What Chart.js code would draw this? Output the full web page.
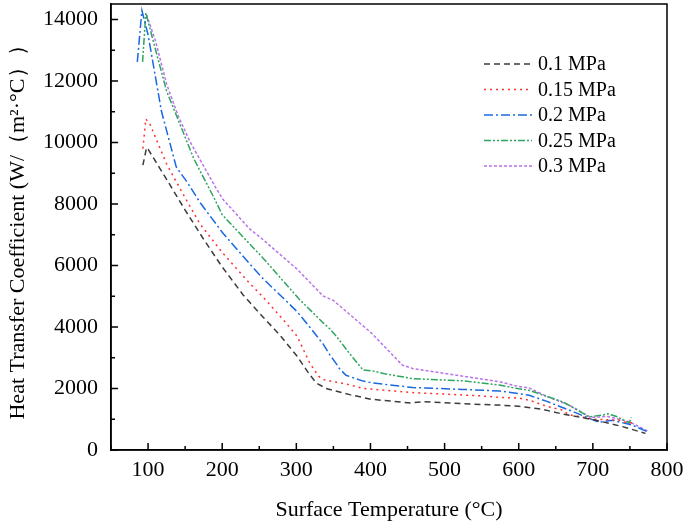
<!DOCTYPE html>
<html>
<head>
<meta charset="utf-8">
<script src="https://cdn.jsdelivr.net/npm/chart.js@4.4.1/dist/chart.umd.min.js"></script>
<style>
  body { margin: 0; background: #fff; }
  canvas { display: block; }
</style>
</head>
<body>
<canvas id="chart" width="685" height="526"></canvas>
<script>
const seriesNames = ['0.1 MPa', '0.15 MPa', '0.2 MPa', '0.25 MPa', '0.3 MPa'];

const temp01 = [93, 98, 100, 125, 150, 175, 200, 228, 254, 278, 301, 318, 327, 340, 372, 401, 454, 472, 549, 574, 600, 632, 659, 704, 740, 771];
const htc01 = [9260, 9830, 9780, 8800, 7800, 6850, 5950, 5050, 4350, 3730, 3050, 2450, 2180, 2000, 1800, 1650, 1530, 1570, 1480, 1460, 1420, 1320, 1170, 970, 760, 540];

const temp015 = [93, 97, 103, 125, 150, 170, 200, 237, 254, 280, 301, 318, 330, 336, 372, 390, 401, 454, 549, 574, 600, 614, 638, 659, 667, 695, 703, 735, 744, 758];
const htc015 = [9800, 10760, 10570, 9300, 8200, 7350, 6420, 5420, 5000, 4300, 3700, 2830, 2400, 2290, 2120, 2000, 1980, 1870, 1760, 1710, 1690, 1620, 1420, 1300, 1150, 1030, 1000, 970, 900, 870];

const temp02 = [85.5, 91.7, 100, 118, 138, 153, 170, 200, 237, 254, 301, 318, 336, 345, 354, 358, 367, 390, 403, 457, 524, 574, 600, 614, 638, 659, 667, 708, 726, 753, 773];
const htc02 = [12620, 14290, 13500, 11020, 9200, 8700, 8050, 7080, 6050, 5600, 4500, 4000, 3450, 3100, 2800, 2650, 2430, 2240, 2180, 2030, 1970, 1920, 1830, 1780, 1580, 1380, 1310, 900, 970, 810, 600];

const temp025 = [92.6, 97, 107, 125, 152, 161, 170, 190, 200, 235, 254, 304, 336, 345, 354, 372, 390, 403, 419, 457, 524, 549, 574, 600, 614, 638, 659, 667, 695, 714, 720, 732, 749, 752];
const htc025 = [12620, 14210, 13290, 11670, 10050, 9510, 9080, 8150, 7650, 6750, 6270, 4900, 4140, 3940, 3700, 3130, 2600, 2570, 2480, 2320, 2250, 2180, 2110, 1990, 1940, 1740, 1570, 1470, 1080, 1140, 1180, 1090, 870, 1060];

const temp03 = [98, 110, 125, 140, 156, 178, 192, 201, 237, 254, 301, 336, 350, 401, 443, 457, 547, 574, 599, 614, 638, 668, 697, 720, 749, 776];
const htc03 = [14150, 13300, 11900, 10900, 10050, 9100, 8500, 8150, 7190, 6860, 5880, 5010, 4860, 3810, 2760, 2650, 2320, 2220, 2070, 2020, 1740, 1460, 1060, 1090, 920, 590];

const seriesTemps = [temp01, temp015, temp02, temp025, temp03];
const seriesHtc = [htc01, htc015, htc02, htc025, htc03];

const xTicks = [100, 200, 300, 400, 500, 600, 700, 800];
const xMinorTicks = [50, 150, 250, 350, 450, 550, 650, 750];
const yTicks = [0, 2000, 4000, 6000, 8000, 10000, 12000, 14000];
const yMinorTicks = [1000, 3000, 5000, 7000, 9000, 11000, 13000];

const colors = ['#3c3c3c', '#ff3030', '#1a68e0', '#2ea55e', '#b873ec'];
const dashes = [[6, 4], [2, 4], [9, 3, 2, 3], [7, 2, 2, 2, 2, 2], [3, 2]];

const serif = '"Liberation Serif", "Times New Roman", serif';
Chart.defaults.font.family = serif;
Chart.defaults.color = '#000';

const datasets = seriesNames.map((name, i) => ({
    label: name,
    data: seriesTemps[i].map((t, j) => ({ x: t, y: seriesHtc[i][j] })),
    borderColor: colors[i],
    borderDash: dashes[i],
    borderWidth: 1.5,
    pointRadius: 0,
    fill: false,
    tension: 0
}));

// frame, inward ticks and legend
const framePlugin = {
    id: 'frame',
    afterDraw(chart) {
        const ctx = chart.ctx;
        const a = chart.chartArea;
        const xs = chart.scales.x;
        const ys = chart.scales.y;
        ctx.save();
        ctx.strokeStyle = '#000';
        ctx.lineWidth = 1.5;
        ctx.setLineDash([]);
        ctx.strokeRect(a.left, a.top, a.right - a.left, a.bottom - a.top);

        ctx.beginPath();
        xTicks.forEach(v => {
            const px = xs.getPixelForValue(v);
            ctx.moveTo(px, a.bottom);
            ctx.lineTo(px, a.bottom - 7);
        });
        xMinorTicks.forEach(v => {
            const px = xs.getPixelForValue(v);
            ctx.moveTo(px, a.bottom);
            ctx.lineTo(px, a.bottom - 4);
        });
        yTicks.forEach(v => {
            const py = ys.getPixelForValue(v);
            ctx.moveTo(a.left, py);
            ctx.lineTo(a.left + 7, py);
        });
        yMinorTicks.forEach(v => {
            const py = ys.getPixelForValue(v);
            ctx.moveTo(a.left, py);
            ctx.lineTo(a.left + 4, py);
        });
        ctx.stroke();

        // legend
        ctx.font = '20px ' + serif;
        ctx.textBaseline = 'middle';
        chart.data.datasets.forEach((ds, i) => {
            const y = 64 + i * 25.5;
            ctx.strokeStyle = ds.borderColor;
            ctx.lineWidth = 1.5;
            ctx.setLineDash(ds.borderDash);
            ctx.beginPath();
            ctx.moveTo(484, y);
            ctx.lineTo(532, y);
            ctx.stroke();
            ctx.setLineDash([]);
            ctx.fillStyle = '#000';
            ctx.fillText(ds.label, 538, y + 1);
        });
        ctx.restore();
    }
};

new Chart(document.getElementById('chart'), {
    type: 'line',
    data: { datasets: datasets },
    options: {
        responsive: false,
        animation: false,
        layout: { padding: { top: 4, right: 18, left: 0, bottom: 0 } },
        plugins: {
            legend: { display: false },
            tooltip: { enabled: false }
        },
        scales: {
            x: {
                type: 'linear',
                min: 50,
                max: 800,
                afterBuildTicks: scale => { scale.ticks = xTicks.map(v => ({ value: v })); },
                afterFit: scale => {
                    scale.height = 76;
                    scale.paddingLeft = 0;
                    scale.paddingRight = 0;
                },
                grid: { display: false, drawTicks: false, tickLength: 0 },
                border: { display: true, color: '#000', width: 1.5 },
                ticks: { font: { size: 22 }, color: '#000', padding: 7, maxRotation: 0, callback: v => String(v) },
                title: {
                    display: true,
                    text: 'Surface Temperature (°C)',
                    font: { size: 22 },
                    color: '#000',
                    padding: { top: 0, bottom: 3 }
                }
            },
            y: {
                type: 'linear',
                min: 0,
                max: 14500,
                afterBuildTicks: scale => { scale.ticks = yTicks.map(v => ({ value: v })); },
                afterFit: scale => {
                    scale.width = 111;
                    scale.paddingTop = 0;
                    scale.paddingBottom = 0;
                },
                grid: { display: false, drawTicks: false, tickLength: 0 },
                border: { display: true, color: '#000', width: 1.5 },
                ticks: { font: { size: 22 }, color: '#000', padding: 13, callback: v => String(v) },
                title: {
                    display: true,
                    text: 'Heat Transfer Coefficient (W/（m²·°C））',
                    font: { size: 22 },
                    color: '#000',
                    padding: { top: 5, bottom: 0 }
                }
            }
        }
    },
    plugins: [framePlugin]
});
</script>
</body>
</html>
